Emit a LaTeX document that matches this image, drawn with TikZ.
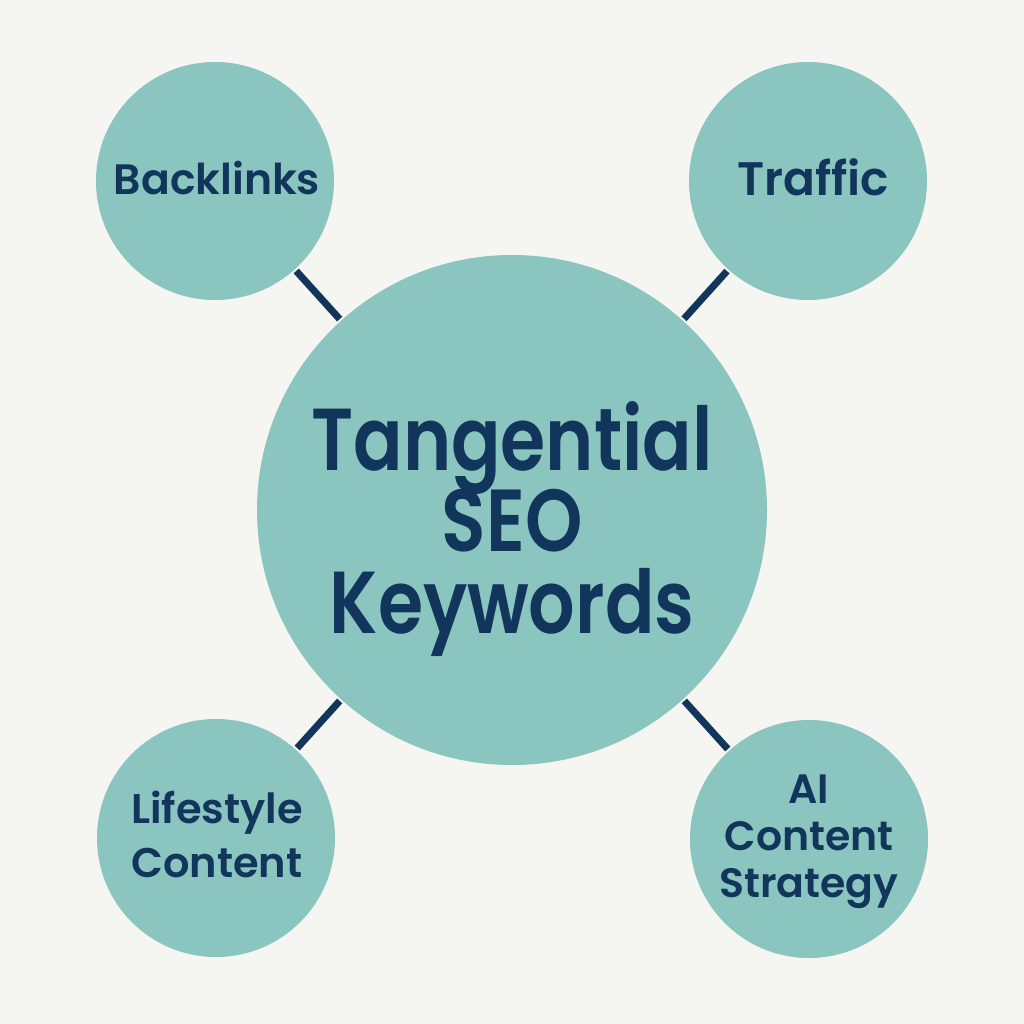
\documentclass[tikz,border=0pt]{standalone}
\usepackage{fontspec}
\setmainfont{Poppins}[UprightFont=* SemiBold, BoldFont=* Bold]
\newfontfamily\bigfont{Poppins}[UprightFont=* SemiBold, FakeStretch=0.83]
\newcommand\tightlines{\lineskiplimit=-100pt\relax}
\definecolor{bg}{HTML}{F5F5F1}
\definecolor{teal}{HTML}{8AC5C0}
\definecolor{navy}{HTML}{11355B}
\begin{document}
\begin{tikzpicture}[x=1pt,y=-1pt,
  bubble/.style={circle,fill=teal,draw=none,inner sep=0pt,minimum size=#1},
  label/.style={text=navy,align=center,inner sep=0pt},
  link/.style={draw=navy,line width=7pt,shorten >=2pt,shorten <=2pt}]
\fill[bg] (0,0) rectangle (1024,1024);
\useasboundingbox (0,0) rectangle (1024,1024);
\node[bubble=510pt] (c) at (512,510) {};
\node[bubble=238pt] (b) at (215,181) {};
\node[bubble=238pt] (t) at (808,181) {};
\node[bubble=238pt] (l) at (216,838) {};
\node[bubble=238pt] (a) at (809,839) {};
\node[label,font=\bigfont\fontsize{88}{81.5}\selectfont\tightlines] (ct) at (512,529) {Tangential\\SEO\\Keywords};
\node[label,font=\fontsize{42.5}{45}\selectfont] (bt) at (217,178) {Backlinks};
\node[label,font=\fontsize{47}{45}\selectfont] (tt) at (813,177) {Traffic};
\node[label,font=\fontsize{41.5}{54}\selectfont\tightlines] (lt) at (217,834) {Lifestyle\\Content};
\node[label,font=\fontsize{41}{47}\selectfont\tightlines] (at) at (809,842) {AI\\Content\\Strategy};
\draw[link] (b) -- (c);
\draw[link] (t) -- (c);
\draw[link] (l) -- (c);
\draw[link] (a) -- (c);
\end{tikzpicture}
\end{document}
